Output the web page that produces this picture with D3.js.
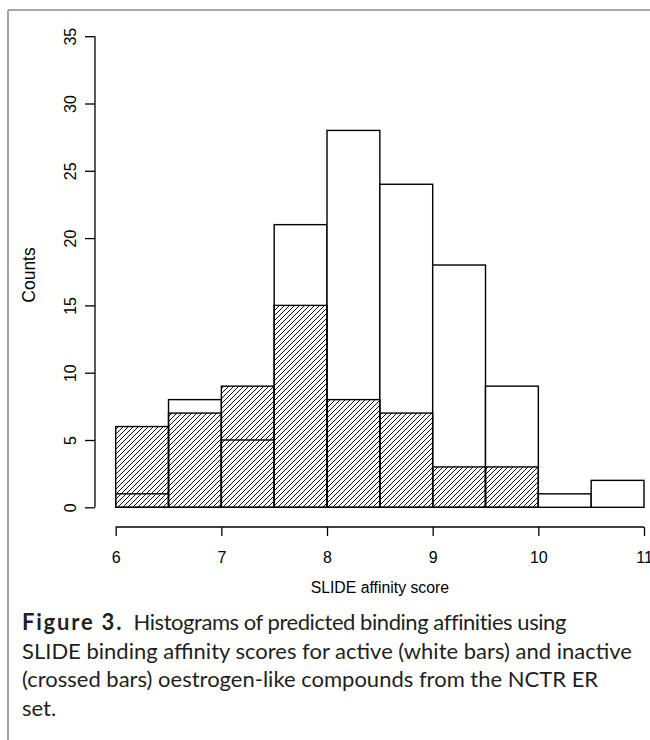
<!DOCTYPE html>
<html>
<head>
<meta charset="utf-8">
<script src="https://cdn.jsdelivr.net/npm/d3@7"></script>
<style>
  html, body { margin: 0; padding: 0; background: #fff; }
  svg { display: block; }
</style>
</head>
<body>
<div id="chart"></div>
<script>
'use strict';

// histogram bin edges (SLIDE affinity score)
var binEdges = [6, 6.5, 7, 7.5, 8, 8.5, 9, 9.5, 10, 10.5, 11];
// active compounds (white bars)
var activeCounts = [1, 8, 5, 21, 28, 24, 18, 9, 1, 2];
// inactive compounds (hatched bars)
var inactiveCounts = [6, 7, 9, 15, 8, 7, 3, 3, 0, 0];

var xTicks = [6, 7, 8, 9, 10, 11];
var yTicks = [0, 5, 10, 15, 20, 25, 30, 35];

var captionLines = [
  ['Figure 3.', '  Histograms of predicted binding affinities using'],
  ['', 'SLIDE binding affinity scores for active (white bars) and inactive'],
  ['', '(crossed bars) oestrogen-like compounds from the NCTR ER'],
  ['', 'set.']
];

var width = 650,
  height = 740;

var x = d3.scaleLinear().domain([6, 11]).range([115.7, 644]);
var y = d3.scaleLinear().domain([0, 35]).range([507.3, 36.2]);

var svg = d3.select('#chart').append('svg')
  .attr('width', width)
  .attr('height', height);

// hatch pattern for inactive bars
var defs = svg.append('defs');
defs.append('pattern')
  .attr('id', 'hatch')
  .attr('patternUnits', 'userSpaceOnUse')
  .attr('width', 5)
  .attr('height', 5)
  .append('path')
  .attr('d', 'M-1,1 L1,-1 M0,5 L5,0 M4,6 L6,4')
  .attr('stroke', '#111')
  .attr('stroke-width', 1);

// frame lines of the figure box
svg.append('line')
  .attr('x1', 8).attr('y1', 10).attr('x2', 8).attr('y2', height)
  .attr('stroke', '#a6a6a6').attr('stroke-width', 2);
svg.append('line')
  .attr('x1', 8).attr('y1', 10).attr('x2', width).attr('y2', 10)
  .attr('stroke', '#a6a6a6').attr('stroke-width', 2);

var binsOf = function(counts) {
  return counts.map(function(c, i) {
    return { x0: binEdges[i], x1: binEdges[i + 1], n: c };
  });
};

var bars = svg.append('g');

// white bars first
bars.selectAll('rect.active')
  .data(binsOf(activeCounts).filter(function(d) { return d.n > 0; }))
  .enter().append('rect')
  .attr('class', 'active')
  .attr('x', function(d) { return x(d.x0); })
  .attr('y', function(d) { return y(d.n); })
  .attr('width', function(d) { return x(d.x1) - x(d.x0); })
  .attr('height', function(d) { return y(0) - y(d.n); })
  .attr('fill', '#fff')
  .attr('stroke', '#000')
  .attr('stroke-width', 1.4);

// hatched bars on top (no background fill so white outlines show through)
bars.selectAll('rect.inactive')
  .data(binsOf(inactiveCounts).filter(function(d) { return d.n > 0; }))
  .enter().append('rect')
  .attr('class', 'inactive')
  .attr('x', function(d) { return x(d.x0); })
  .attr('y', function(d) { return y(d.n); })
  .attr('width', function(d) { return x(d.x1) - x(d.x0); })
  .attr('height', function(d) { return y(0) - y(d.n); })
  .attr('fill', 'url(#hatch)')
  .attr('stroke', '#000')
  .attr('stroke-width', 1.4);

// y axis
var yAxis = svg.append('g')
  .attr('transform', 'translate(95,0)')
  .call(d3.axisLeft(y).tickValues(yTicks).tickSize(10).tickPadding(0).tickFormat(d3.format('d')));
yAxis.select('.domain').attr('stroke', '#000').attr('stroke-width', 1.3).attr('d', 'M0,' + y(0) + 'V' + y(35));
yAxis.selectAll('.tick line').attr('stroke', '#000').attr('stroke-width', 1.3);
yAxis.selectAll('.tick text')
  .attr('x', null).attr('dy', null)
  .attr('text-anchor', 'middle')
  .attr('transform', 'translate(-19,0) rotate(-90)')
  .attr('font-family', 'Liberation Sans, Arial, sans-serif')
  .attr('font-size', 16)
  .attr('fill', '#000');

// x axis
var xAxis = svg.append('g')
  .attr('transform', 'translate(0,527)')
  .call(d3.axisBottom(x).tickValues(xTicks).tickSize(9).tickPadding(0).tickFormat(d3.format('d')));
xAxis.select('.domain').attr('stroke', '#000').attr('stroke-width', 1.3).attr('d', 'M' + x(6) + ',0H' + x(11));
xAxis.selectAll('.tick line').attr('stroke', '#000').attr('stroke-width', 1.3);
xAxis.selectAll('.tick text')
  .attr('y', 36).attr('dy', null)
  .attr('font-family', 'Liberation Sans, Arial, sans-serif')
  .attr('font-size', 16)
  .attr('fill', '#000');

// axis titles
svg.append('text')
  .attr('transform', 'translate(35,275) rotate(-90)')
  .attr('text-anchor', 'middle')
  .attr('font-family', 'Liberation Sans, Arial, sans-serif')
  .attr('font-size', 17.5)
  .text('Counts');

svg.append('text')
  .attr('x', (x(6) + x(11)) / 2)
  .attr('y', 593)
  .attr('text-anchor', 'middle')
  .attr('font-family', 'Liberation Sans, Arial, sans-serif')
  .attr('font-size', 15.8)
  .text('SLIDE affinity score');

// figure caption
var caption = svg.append('text')
  .attr('font-family', 'Lato, sans-serif')
  .attr('font-size', 22)
  .attr('fill', '#231f20')
  .attr('xml:space', 'preserve');
captionLines.forEach(function(l, i) {
  var t = caption.append('tspan')
    .attr('x', 22)
    .attr('y', 630 + i * 28.5);
  if (l[0]) {
    t.append('tspan').attr('font-weight', 'bold').attr('letter-spacing', 1.8).text(l[0]);
    t.append('tspan').attr('letter-spacing', -0.45).text(l[1]);
  } else {
    t.append('tspan').text(l[1]);
  }
});
</script>
</body>
</html>
